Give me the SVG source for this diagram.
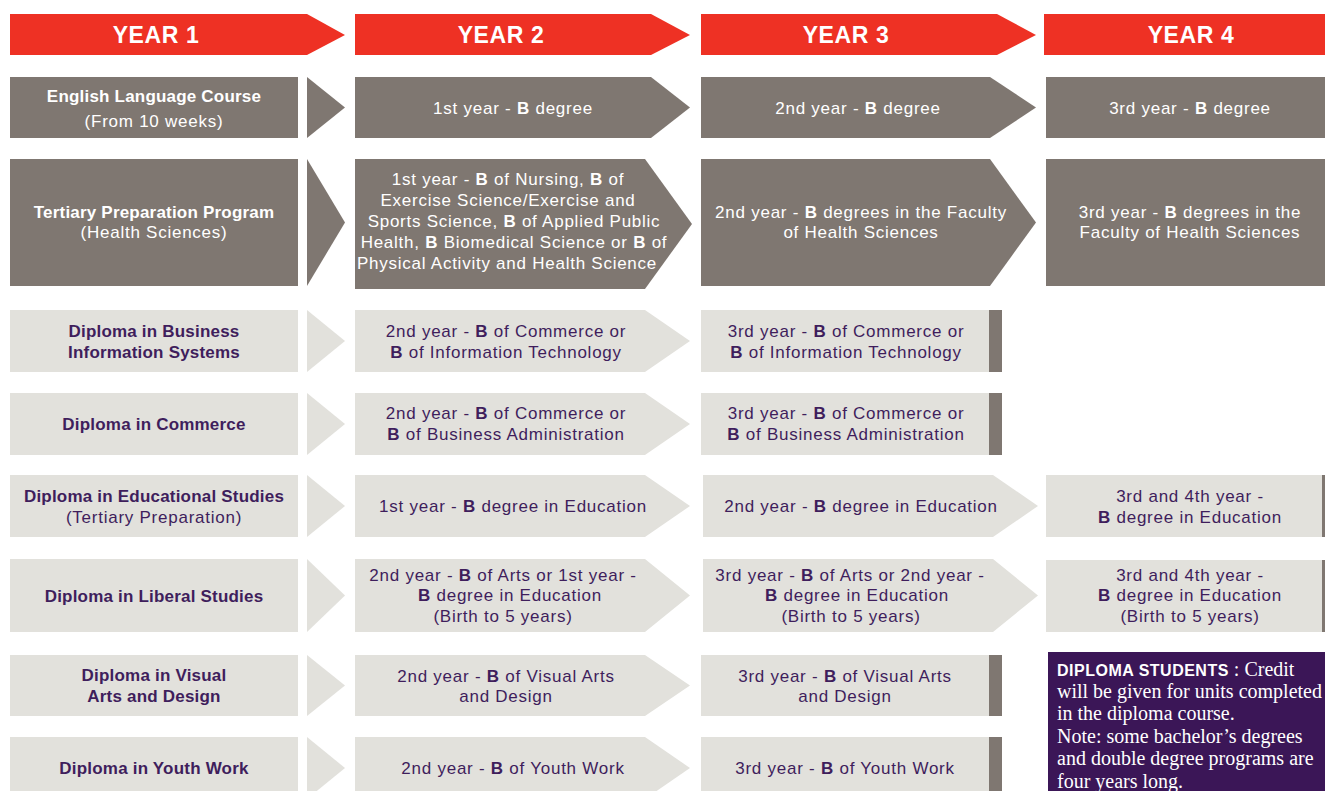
<svg xmlns="http://www.w3.org/2000/svg" width="1325" height="791" viewBox="0 0 1325 791">
<style>
.hd{fill:#ee3124}
.dk{fill:#7f7771}
.lt{fill:#e2e1dc}
.t{font-family:"Liberation Sans",Arial,sans-serif;font-size:17px;text-anchor:middle;letter-spacing:0.75px}
.w{fill:#ffffff}
.p{fill:#3f1e5c}
.b{font-weight:bold}
.bt{letter-spacing:0.2px}
.h{font-family:"Liberation Sans",Arial,sans-serif;font-size:23px;font-weight:bold;fill:#ffffff;text-anchor:middle;letter-spacing:0.6px}
.note{font-family:"Liberation Serif",serif;font-size:20px;fill:#ffffff}
</style>
<rect width="1325" height="791" fill="#ffffff"/>

<g id="year1-header"><polygon class="hd" points="10,14 307,14 345,35 307,55 10,55"/><text class="h" x="156" y="43">YEAR 1</text></g>
<g id="year2-header"><polygon class="hd" points="355,14 651,14 690,35 651,55 355,55"/><text class="h" x="501" y="43">YEAR 2</text></g>
<g id="year3-header"><polygon class="hd" points="701,14 997,14 1036,35 997,55 701,55"/><text class="h" x="846" y="43">YEAR 3</text></g>
<g id="year4-header"><rect class="hd" x="1044" y="14" width="281" height="41"/><text class="h" x="1191" y="43">YEAR 4</text></g>

<g id="connectors">
<polygon class="dk" points="307,77 345,107.5 307,138"/>
<polygon class="dk" points="307,159 345,222.5 307,286"/>
<polygon class="lt" points="307,310 345,341 307,372"/>
<polygon class="lt" points="307,393 345,424 307,455"/>
<polygon class="lt" points="307,475 345,506 307,537"/>
<polygon class="lt" points="307,559 345,595.5 307,632"/>
<polygon class="lt" points="307,655 345,685.5 307,716"/>
<polygon class="lt" points="307,737 345,768 307,799"/>
</g>

<!-- Row 1 -->
<g id="r1-y1"><rect class="dk" x="10" y="77" width="288" height="61"/>
<text class="t w b bt" x="154" y="102">English Language Course</text>
<text class="t w" x="154" y="127">(From 10 weeks)</text></g>
<g id="r1-y2"><polygon class="dk" points="355,77 651,77 690,107.5 651,138 355,138"/>
<text class="t w" x="513" y="114">1st year - <tspan class="b">B</tspan> degree</text></g>
<g id="r1-y3"><polygon class="dk" points="701,77 990,77 1036,107.5 990,138 701,138"/>
<text class="t w" x="858" y="114">2nd year - <tspan class="b">B</tspan> degree</text></g>
<g id="r1-y4"><rect class="dk" x="1046" y="77" width="279" height="61"/>
<text class="t w" x="1190" y="114">3rd year - <tspan class="b">B</tspan> degree</text></g>

<!-- Row 2 -->
<g id="r2-y1"><rect class="dk" x="10" y="159" width="288" height="127"/>
<text class="t w b bt" x="154" y="218">Tertiary Preparation Program</text>
<text class="t w" x="154" y="238">(Health Sciences)</text></g>
<g id="r2-y2"><polygon class="dk" points="355,159 645,159 692,224 645,289 355,289"/>
<text class="t w" x="508" y="185">1st year - <tspan class="b">B</tspan> of Nursing, <tspan class="b">B</tspan> of</text>
<text class="t w" x="508" y="206">Exercise Science/Exercise and</text>
<text class="t w" x="514" y="227">Sports Science, <tspan class="b">B</tspan> of Applied Public</text>
<text class="t w" x="514" y="248">Health, <tspan class="b">B</tspan> Biomedical Science or <tspan class="b">B</tspan> of</text>
<text class="t w" x="507" y="269">Physical Activity and Health Science</text></g>
<g id="r2-y3"><polygon class="dk" points="701,159 990,159 1036,222.5 990,286 701,286"/>
<text class="t w" x="861" y="218">2nd year - <tspan class="b">B</tspan> degrees in the Faculty</text>
<text class="t w" x="861" y="238">of Health Sciences</text></g>
<g id="r2-y4"><rect class="dk" x="1046" y="159" width="279" height="127"/>
<text class="t w" x="1190" y="218">3rd year - <tspan class="b">B</tspan> degrees in the</text>
<text class="t w" x="1190" y="238">Faculty of Health Sciences</text></g>

<!-- Row 3 -->
<g id="r3-y1"><rect class="lt" x="10" y="310" width="288" height="62"/>
<text class="t p b bt" x="154" y="337">Diploma in Business</text>
<text class="t p b bt" x="154" y="358">Information Systems</text></g>
<g id="r3-y2"><polygon class="lt" points="355,310 645,310 690,341 645,372 355,372"/>
<text class="t p" x="506" y="337">2nd year - <tspan class="b">B</tspan> of Commerce or</text>
<text class="t p" x="506" y="358"><tspan class="b">B</tspan> of Information Technology</text></g>
<g id="r3-y3"><rect class="lt" x="701" y="310" width="288" height="62"/><rect class="dk" x="989" y="310" width="13" height="62"/>
<text class="t p" x="846" y="337">3rd year - <tspan class="b">B</tspan> of Commerce or</text>
<text class="t p" x="846" y="358"><tspan class="b">B</tspan> of Information Technology</text></g>

<!-- Row 4 -->
<g id="r4-y1"><rect class="lt" x="10" y="393" width="288" height="62"/>
<text class="t p b bt" x="154" y="430">Diploma in Commerce</text></g>
<g id="r4-y2"><polygon class="lt" points="355,393 645,393 690,424 645,455 355,455"/>
<text class="t p" x="506" y="419">2nd year - <tspan class="b">B</tspan> of Commerce or</text>
<text class="t p" x="506" y="440"><tspan class="b">B</tspan> of Business Administration</text></g>
<g id="r4-y3"><rect class="lt" x="701" y="393" width="288" height="62"/><rect class="dk" x="989" y="393" width="13" height="62"/>
<text class="t p" x="846" y="419">3rd year - <tspan class="b">B</tspan> of Commerce or</text>
<text class="t p" x="846" y="440"><tspan class="b">B</tspan> of Business Administration</text></g>

<!-- Row 5 -->
<g id="r5-y1"><rect class="lt" x="10" y="475" width="288" height="62"/>
<text class="t p b bt" x="154" y="502">Diploma in Educational Studies</text>
<text class="t p" x="154" y="523">(Tertiary Preparation)</text></g>
<g id="r5-y2"><polygon class="lt" points="355,475 645,475 690,506 645,537 355,537"/>
<text class="t p" x="513" y="512">1st year - <tspan class="b">B</tspan> degree in Education</text></g>
<g id="r5-y3"><polygon class="lt" points="703,475 993,475 1038,506 993,537 703,537"/>
<text class="t p" x="861" y="512">2nd year - <tspan class="b">B</tspan> degree in Education</text></g>
<g id="r5-y4"><rect class="lt" x="1046" y="475" width="276" height="62"/><rect class="dk" x="1322" y="475" width="3" height="62"/>
<text class="t p" x="1190" y="502">3rd and 4th year -</text>
<text class="t p" x="1190" y="523"><tspan class="b">B</tspan> degree in Education</text></g>

<!-- Row 6 -->
<g id="r6-y1"><rect class="lt" x="10" y="559" width="288" height="73"/>
<text class="t p b bt" x="154" y="602">Diploma in Liberal Studies</text></g>
<g id="r6-y2"><polygon class="lt" points="355,559 645,559 690,595.5 645,632 355,632"/>
<text class="t p" x="503" y="581">2nd year - <tspan class="b">B</tspan> of Arts or 1st year -</text>
<text class="t p" x="510" y="601"><tspan class="b">B</tspan> degree in Education</text>
<text class="t p" x="503" y="622">(Birth to 5 years)</text></g>
<g id="r6-y3"><polygon class="lt" points="703,559 993,559 1038,595.5 993,632 703,632"/>
<text class="t p" x="850" y="581">3rd year - <tspan class="b">B</tspan> of Arts or 2nd year -</text>
<text class="t p" x="857" y="601"><tspan class="b">B</tspan> degree in Education</text>
<text class="t p" x="851" y="622">(Birth to 5 years)</text></g>
<g id="r6-y4"><rect class="lt" x="1046" y="560" width="276" height="72"/><rect class="dk" x="1322" y="560" width="3" height="72"/>
<text class="t p" x="1190" y="581">3rd and 4th year -</text>
<text class="t p" x="1190" y="601"><tspan class="b">B</tspan> degree in Education</text>
<text class="t p" x="1190" y="622">(Birth to 5 years)</text></g>

<!-- Row 7 -->
<g id="r7-y1"><rect class="lt" x="10" y="655" width="288" height="61"/>
<text class="t p b bt" x="154" y="681">Diploma in Visual</text>
<text class="t p b bt" x="154" y="702">Arts and Design</text></g>
<g id="r7-y2"><polygon class="lt" points="355,655 645,655 690,685.5 645,716 355,716"/>
<text class="t p" x="506" y="682">2nd year - <tspan class="b">B</tspan> of Visual Arts</text>
<text class="t p" x="506" y="702">and Design</text></g>
<g id="r7-y3"><rect class="lt" x="701" y="655" width="288" height="61"/><rect class="dk" x="989" y="655" width="13" height="61"/>
<text class="t p" x="845" y="682">3rd year - <tspan class="b">B</tspan> of Visual Arts</text>
<text class="t p" x="845" y="702">and Design</text></g>

<!-- Row 8 -->
<g id="r8-y1"><rect class="lt" x="10" y="737" width="288" height="62"/>
<text class="t p b bt" x="154" y="774">Diploma in Youth Work</text></g>
<g id="r8-y2"><polygon class="lt" points="355,737 645,737 690,768 645,799 355,799"/>
<text class="t p" x="513" y="774">2nd year - <tspan class="b">B</tspan> of Youth Work</text></g>
<g id="r8-y3"><rect class="lt" x="701" y="737" width="288" height="62"/><rect class="dk" x="989" y="737" width="13" height="62"/>
<text class="t p" x="845" y="774">3rd year - <tspan class="b">B</tspan> of Youth Work</text></g>

<!-- Note -->
<g id="note"><rect x="1048" y="652" width="277" height="139" fill="#3b1657"/>
<text class="note" x="1057" y="676"><tspan font-family="'Liberation Sans',Arial,sans-serif" font-weight="bold" font-size="16" letter-spacing="0.5">DIPLOMA STUDENTS</tspan> : Credit</text>
<text class="note" x="1057" y="698">will be given for units completed</text>
<text class="note" x="1057" y="720">in the diploma course.</text>
<text class="note" x="1057" y="743">Note: some bachelor’s degrees</text>
<text class="note" x="1057" y="765">and double degree programs are</text>
<text class="note" x="1057" y="788">four years long.</text></g>
</svg>
